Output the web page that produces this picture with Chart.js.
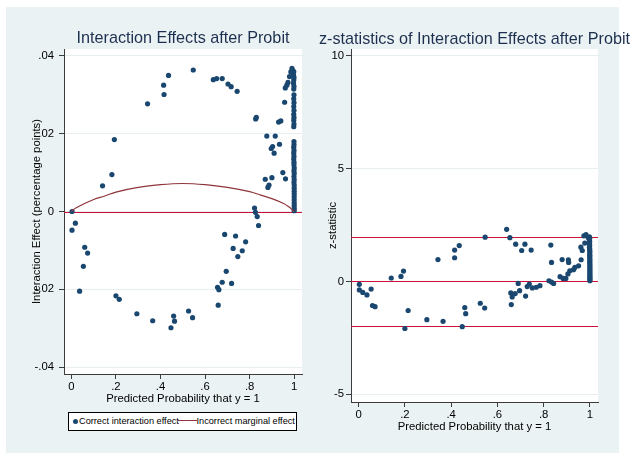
<!DOCTYPE html>
<html>
<head>
<meta charset="utf-8">
<script src="https://cdn.jsdelivr.net/npm/chart.js@4.4.1/dist/chart.umd.min.js"></script>
<style>
  html, body { margin: 0; padding: 0; background: #fff; }
  body { width: 632px; height: 455px; position: relative; overflow: hidden; font-family: "Liberation Sans", Arial, sans-serif; }
  #region { position: absolute; left: 6px; top: 7px; width: 613px; height: 446px; background: #eaf2f3; }
  canvas { position: absolute; top: 0; }
  #cvLeft { left: 0; }
  #cvRight { left: 316px; }
  #legend { position: absolute; left: 68px; top: 412px; width: 229px; height: 19px; box-sizing: border-box;
            border: 1px solid #000; background: #fff; overflow: hidden; font-size: 9.2px; color: #000; }
  #legend .dot { position: absolute; left: 3.5px; top: 5.5px; width: 5px; height: 5px; border-radius: 50%; background: #1a476f; }
  #legend .seg { position: absolute; left: 109px; top: 7px; width: 19px; height: 1.2px; background: #90353b; }
  #legend .lbl { position: absolute; top: 0; line-height: 17px; white-space: nowrap; }
</style>
</head>
<body>
<div id="region"></div>
<canvas id="cvLeft" width="316" height="455"></canvas>
<canvas id="cvRight" width="316" height="455"></canvas>
<div id="legend">
  <span class="dot"></span><span class="lbl" style="left:10px">Correct interaction effect</span>
  <span class="seg"></span><span class="lbl" style="left:127.5px">Incorrect marginal effect</span>
</div>
<script>
// Achsen / Ticks
const xTicks = [0, .2, .4, .6, .8, 1];
const xTickLabels = ['0', '.2', '.4', '.6', '.8', '1'];
const effTicks = [-.04, -.02, 0, .02, .04];
const effTickLabels = ['-.04', '-.02', '0', '.02', '.04'];
const zTicks = [-5, 0, 5, 10];
const zTickLabels = ['-5', '0', '5', '10'];
const effLines = [0];
const zLines = [-1.96, 0, 1.96];

// korrekter Interaktionseffekt (linkes Panel)
const effProb = [
  0.003, 0.018, 0.003, 0.060, 0.073, 0.054, 0.037, 0.140, 0.182, 0.193,
  0.200, 0.215, 0.294, 0.342, 0.365, 0.414, 0.416, 0.436, 0.447, 0.459,
  0.463, 0.526, 0.544, 0.547, 0.637, 0.652, 0.656, 0.659, 0.662, 0.677,
  0.677, 0.688, 0.695, 0.703, 0.717, 0.719, 0.726, 0.737, 0.744, 0.747,
  0.767, 0.782, 0.822, 0.826, 0.827, 0.830, 0.834, 0.840, 0.870, 0.877,
  0.882, 0.887, 0.897, 0.900, 0.903, 0.910, 0.915, 0.930, 0.934, 0.940,
  0.949, 0.957, 0.960, 0.961, 0.967, 0.972, 0.979, 0.985, 0.990, 0.993,
  0.998, 0.997, 0.999, 0.998, 0.997, 0.999, 0.998, 0.999, 0.998, 0.999,
  0.998, 0.999, 0.998, 0.999, 0.998, 0.999, 0.998, 0.999, 0.999, 0.998,
  0.999, 0.998, 0.999, 0.998, 0.999, 0.999, 1.000, 0.999, 1.000, 0.999,
  1.000, 0.999, 1.000, 1.000, 1.000, 1.000, 1.000, 1.000, 1.000, 1.000,
  1.000, 1.000
];
const effValue = [
  0.0000, -0.0030, -0.0048, -0.0092, -0.0107, -0.0141, -0.0205, 0.0066, 0.0095, 0.0185,
  -0.0217, -0.0226, -0.0263, 0.0277, -0.0281, 0.0325, 0.0301, 0.0350, -0.0299, -0.0269,
  -0.0282, -0.0256, -0.0273, 0.0364, 0.0339, 0.0342, -0.0195, -0.0241, -0.0201, 0.0342,
  -0.0182, -0.0059, -0.0154, 0.0328, 0.0321, -0.0185, -0.0095, -0.0063, 0.0309, -0.0116,
  -0.0101, -0.0078, 0.0009, -0.0002, 0.0238, 0.0242, -0.0013, -0.0036, 0.0083, 0.0194,
  0.0062, 0.0068, 0.0162, 0.0087, 0.0167, 0.0150, 0.0194, 0.0230, 0.0173, 0.0233,
  0.0100, 0.0281, 0.0318, 0.0084, 0.0325, 0.0332, 0.0347, 0.0359, 0.0368, 0.0363,
  0.0360, 0.0352, 0.0345, 0.0338, 0.0330, 0.0322, 0.0315, 0.0300, 0.0290, 0.0280,
  0.0270, 0.0260, 0.0250, 0.0242, 0.0235, 0.0225, 0.0218, 0.0180, 0.0172, 0.0165,
  0.0157, 0.0150, 0.0142, 0.0135, 0.0127, 0.0120, 0.0112, 0.0105, 0.0098, 0.0090,
  0.0082, 0.0075, 0.0068, 0.0060, 0.0052, 0.0045, 0.0038, 0.0030, 0.0022, 0.0015,
  0.0008, 0.0002
];

// falscher marginaler Effekt (Kurve)
const margProb = [0, .01, .02, .05, .1, .15, .2, .3, .4, .5, .6, .7, .8, .85, .9, .95, .98, .99, 1];
const margValue = [0, .0005, .0009, .0018, .0031, .0040, .0050, .0062, .0069, .0072,
                   .0069, .0062, .0051, .0042, .0033, .0021, .0010, .0005, 0];

// z-Statistiken (rechtes Panel)
const zProb = [
  0.003, 0.003, 0.018, 0.036, 0.054, 0.060, 0.071, 0.141, 0.183, 0.194,
  0.200, 0.214, 0.295, 0.343, 0.365, 0.415, 0.415, 0.435, 0.448, 0.459,
  0.463, 0.526, 0.545, 0.547, 0.640, 0.654, 0.658, 0.660, 0.664, 0.677,
  0.679, 0.690, 0.696, 0.705, 0.719, 0.722, 0.729, 0.738, 0.746, 0.751,
  0.768, 0.784, 0.823, 0.831, 0.834, 0.834, 0.843, 0.871, 0.880, 0.884,
  0.896, 0.905, 0.907, 0.908, 0.913, 0.929, 0.935, 0.951, 0.961, 0.962,
  0.967, 0.974, 0.978, 0.983, 0.993,
  0.998, 0.999, 0.998, 0.999, 0.998, 0.999, 0.998, 0.999, 0.999, 1.000,
  0.999, 1.000, 0.999, 1.000, 1.000, 0.999, 1.000, 1.000, 1.000, 1.000,
  1.000, 1.000, 1.000, 1.000, 1.000, 1.000, 1.000, 1.000
];
const zValue = [
  -0.13, -0.38, -0.49, -0.60, -0.34, -1.07, -1.12, 0.15, 0.22, 0.46,
  -2.09, -1.29, -1.70, 0.97, -1.77, 1.39, 1.05, 1.59, -2.01, -1.16,
  -1.43, -0.97, -1.18, 1.96, 2.31, 1.94, -0.51, -1.03, -0.69, -0.54,
  1.65, -0.09, -0.41, 1.37, 1.65, -0.65, -0.23, -0.12, 1.39, -0.29,
  -0.26, -0.19, 0.03, 1.61, 0.84, -0.03, -0.09, 0.21, 0.97, 0.13,
  0.13, 0.33, 0.96, 0.84, 0.47, 0.52, 0.62, 0.69, 1.52, 0.96,
  1.37, 2.02, 1.70, 2.08, 1.94,
  1.98, 1.90, 1.82, 1.75, 1.68, 1.60, 1.52, 1.45, 1.38, 1.30,
  1.22, 1.15, 1.08, 1.00, 0.92, 0.85, 0.78, 0.70, 0.62, 0.55,
  0.48, 0.40, 0.33, 0.26, 0.20, 0.14, 0.08, 0.03
];

const navy = '#1a476f';
const maroon = '#90353b';
const refRed = '#cc1238';
const axisCol = '#3c3c3c';
const gridCol = '#e6eef0';
const tickFont = { family: '"Liberation Sans", Arial, sans-serif', size: 11.3 };

function toPoints(xs, ys) {
  return xs.map((x, i) => ({ x: x, y: ys[i] }));
}

// weisser Plotbereich
const plotBg = {
  id: 'plotBg',
  beforeDraw(chart) {
    const { ctx, chartArea: a } = chart;
    ctx.save();
    ctx.fillStyle = '#fff';
    ctx.fillRect(a.left, a.top, a.right - a.left, a.bottom - a.top);
    ctx.restore();
  }
};

// horizontale Referenzlinien
const refLines = {
  id: 'refLines',
  beforeDatasetsDraw(chart, args, opts) {
    const { ctx, chartArea: a, scales } = chart;
    ctx.save();
    ctx.strokeStyle = opts.color;
    ctx.lineWidth = opts.width;
    (opts.values || []).forEach(v => {
      const y = Math.round(scales.y.getPixelForValue(v)) + 0.5;
      ctx.beginPath();
      ctx.moveTo(a.left, y);
      ctx.lineTo(a.right, y);
      ctx.stroke();
    });
    ctx.restore();
  }
};

// Titel ueber dem Plotbereich zentriert
const panelTitle = {
  id: 'panelTitle',
  afterDraw(chart, args, opts) {
    const { ctx, chartArea: a } = chart;
    ctx.save();
    ctx.font = '16.2px "Liberation Sans", Arial, sans-serif';
    ctx.fillStyle = '#1e3050';
    ctx.textAlign = 'center';
    ctx.textBaseline = 'alphabetic';
    ctx.fillText(opts.text, (a.left + a.right) / 2, opts.baseline);
    ctx.restore();
  }
};

function xAxis(height, titlePad) {
  return {
    type: 'linear', min: -0.033, max: 1.035,
    afterBuildTicks: s => { s.ticks = xTicks.map(v => ({ value: v })); },
    afterFit: s => { s.height = height; },
    ticks: { autoSkip: false, maxRotation: 0, padding: 1, color: '#000', font: tickFont,
             callback: (v, i) => xTickLabels[i] },
    grid: { drawOnChartArea: false, tickLength: 5, tickColor: axisCol },
    border: { color: axisCol, width: 1 },
    title: { display: true, text: 'Predicted Probability that y = 1', color: '#000', font: tickFont,
             padding: { top: 0, bottom: titlePad } }
  };
}

function yAxis(min, max, ticks, labels, width, tickPad, titleText, titlePad) {
  return {
    type: 'linear', min: min, max: max,
    afterBuildTicks: s => { s.ticks = ticks.map(v => ({ value: v })); },
    afterFit: s => { s.width = width; },
    ticks: { autoSkip: false, padding: tickPad, color: '#000', font: tickFont,
             callback: (v, i) => labels[i] },
    grid: { color: gridCol, tickLength: 5, tickColor: axisCol },
    border: { color: axisCol, width: 1 },
    title: { display: true, text: titleText, color: '#000', font: tickFont,
             padding: { top: titlePad, bottom: 0 } }
  };
}

const common = {
  responsive: false,
  animation: false,
  events: []
};

new Chart(document.getElementById('cvLeft'), {
  type: 'scatter',
  data: {
    datasets: [
      { label: 'Correct interaction effect', data: toPoints(effProb, effValue), order: 1,
        pointRadius: 2.6, pointBackgroundColor: navy, pointBorderWidth: 0 },
      { label: 'Incorrect marginal effect', data: toPoints(margProb, margValue), order: 0,
        showLine: true, pointRadius: 0, borderColor: maroon, borderWidth: 1.2, tension: 0.4 }
    ]
  },
  options: Object.assign({}, common, {
    layout: { padding: { left: 0, right: 14, top: 49, bottom: 0 } },
    scales: {
      x: xAxis(81, 49),
      y: yAxis(-0.0418, 0.0418, effTicks, effTickLabels, 64, 5,
               'Interaction Effect (percentage points)', 30.4)
    },
    plugins: {
      legend: { display: false },
      tooltip: { enabled: false },
      refLines: { values: effLines, color: refRed, width: 1.2 },
      panelTitle: { text: 'Interaction Effects after Probit', baseline: 43 }
    }
  }),
  plugins: [plotBg, refLines, panelTitle]
});

new Chart(document.getElementById('cvRight'), {
  type: 'scatter',
  data: {
    datasets: [
      { label: 'z-statistic', data: toPoints(zProb, zValue),
        pointRadius: 2.6, pointBackgroundColor: navy, pointBorderWidth: 0 }
    ]
  },
  options: Object.assign({}, common, {
    layout: { padding: { left: 0, right: 34, top: 49, bottom: 0 } },
    scales: {
      x: xAxis(53, 21.4),
      y: yAxis(-5.35, 10.31, zTicks, zTickLabels, 35, 2, 'z-statistic', 10.4)
    },
    plugins: {
      legend: { display: false },
      tooltip: { enabled: false },
      refLines: { values: zLines, color: refRed, width: 1.2 },
      panelTitle: { text: 'z-statistics of Interaction Effects after Probit', baseline: 43.5 }
    }
  }),
  plugins: [plotBg, refLines, panelTitle]
});
</script>
</body>
</html>
